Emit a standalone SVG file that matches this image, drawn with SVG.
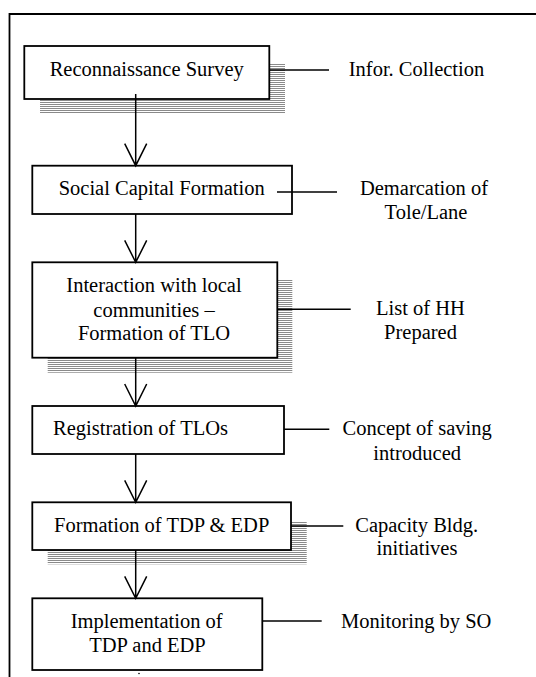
<svg xmlns="http://www.w3.org/2000/svg" width="536" height="677" viewBox="0 0 536 677">
  <defs>
    <!-- horizontal hatching used for the drop shadows -->
    <pattern id="hatch" width="4" height="2" patternUnits="userSpaceOnUse">
      <rect x="0" y="0" width="4" height="1" fill="#8a8a8a"/>
    </pattern>
  </defs>
  <style>
    .frame { fill: none; stroke: #000; stroke-width: 1.8; }
    .box { fill: #fff; stroke: #000; stroke-width: 1.8; }
    .shadow { fill: url(#hatch); }
    .lbl { font-family: "Liberation Serif", "Times New Roman", serif; font-size: 20.5px; fill: #000; text-anchor: middle; }
    .wire { fill: none; stroke: #000; stroke-width: 1.5; }
  </style>
  <rect width="536" height="677" fill="#fff"/>

  <!-- outer frame (open to the right and bottom) -->
  <path class="frame" d="M9.5,677 V14 H536"/>

  <g id="reconnaissance-survey">
    <rect class="shadow" x="40" y="63" width="245" height="50"/>
    <rect class="box" x="24.3" y="46" width="245" height="53"/>
    <text class="lbl" x="146.7" y="76">Reconnaissance Survey</text>
  </g>
  <g id="infor-collection">
    <text class="lbl" x="416.5" y="76">Infor. Collection</text>
  </g>

  <g id="social-capital-formation">
    <rect class="box" x="32.3" y="165.7" width="259.7" height="48.3"/>
    <text class="lbl" x="161.7" y="195">Social Capital Formation</text>
  </g>
  <g id="demarcation">
    <text class="lbl" x="424" y="195">Demarcation of</text>
    <text class="lbl" x="426" y="219">Tole/Lane</text>
  </g>

  <g id="interaction">
    <rect class="shadow" x="47.7" y="279.3" width="244.6" height="93.4"/>
    <rect class="box" x="32.3" y="262.3" width="245" height="95.4"/>
    <text class="lbl" x="154" y="291.7">Interaction with local</text>
    <text class="lbl" x="154" y="316.7">communities –</text>
    <text class="lbl" x="154" y="340">Formation of TLO</text>
  </g>
  <g id="list-of-hh">
    <text class="lbl" x="420.5" y="315">List of HH</text>
    <text class="lbl" x="420.5" y="339.3">Prepared</text>
  </g>

  <g id="registration">
    <rect class="box" x="32.3" y="406" width="251.7" height="48"/>
    <text class="lbl" x="140.5" y="435">Registration of TLOs</text>
  </g>
  <g id="concept-of-saving">
    <text class="lbl" x="417.2" y="435">Concept of saving</text>
    <text class="lbl" x="417.2" y="460">introduced</text>
  </g>

  <g id="tdp-edp-formation">
    <rect class="shadow" x="47.7" y="521.7" width="259" height="42.6"/>
    <rect class="box" x="32.3" y="502.3" width="258.7" height="47.7"/>
    <text class="lbl" x="161.7" y="531.7">Formation of TDP &amp; EDP</text>
  </g>
  <g id="capacity-bldg">
    <text class="lbl" x="416.7" y="531.7">Capacity Bldg.</text>
    <text class="lbl" x="417" y="555">initiatives</text>
  </g>

  <g id="implementation">
    <rect class="box" x="32.3" y="598.3" width="230" height="71.7"/>
    <text class="lbl" x="146.7" y="628.3">Implementation of</text>
    <text class="lbl" x="147.5" y="651.7">TDP and EDP</text>
  </g>
  <g id="monitoring">
    <text class="lbl" x="416.2" y="628.3">Monitoring by SO</text>
  </g>

  <g id="connectors">
    <!-- flow arrows with open V heads -->
    <path class="wire" d="M135.7,94 V165.7 M124.7,143.7 L135.7,165.7 L146.7,143.7"/>
    <path class="wire" d="M135.7,214 V262.3 M124.7,240.3 L135.7,262.3 L146.7,240.3"/>
    <path class="wire" d="M135.7,357.7 V406 M124.7,384 L135.7,406 L146.7,384"/>
    <path class="wire" d="M135.7,454 V502.3 M124.7,480.3 L135.7,502.3 L146.7,480.3"/>
    <path class="wire" d="M135.7,550 V598.3 M124.7,576.3 L135.7,598.3 L146.7,576.3"/>
    <!-- side links to the outcome labels -->
    <path class="wire" d="M269.3,70 H329"/>
    <path class="wire" d="M277,192 H337"/>
    <path class="wire" d="M277.3,309.3 H350.7"/>
    <path class="wire" d="M284,429.3 H329.3"/>
    <path class="wire" d="M291,526 H343.3"/>
    <path class="wire" d="M262.3,621 H321.7"/>
    <circle cx="139" cy="673.5" r="0.8" fill="#000"/>
  </g>
</svg>
